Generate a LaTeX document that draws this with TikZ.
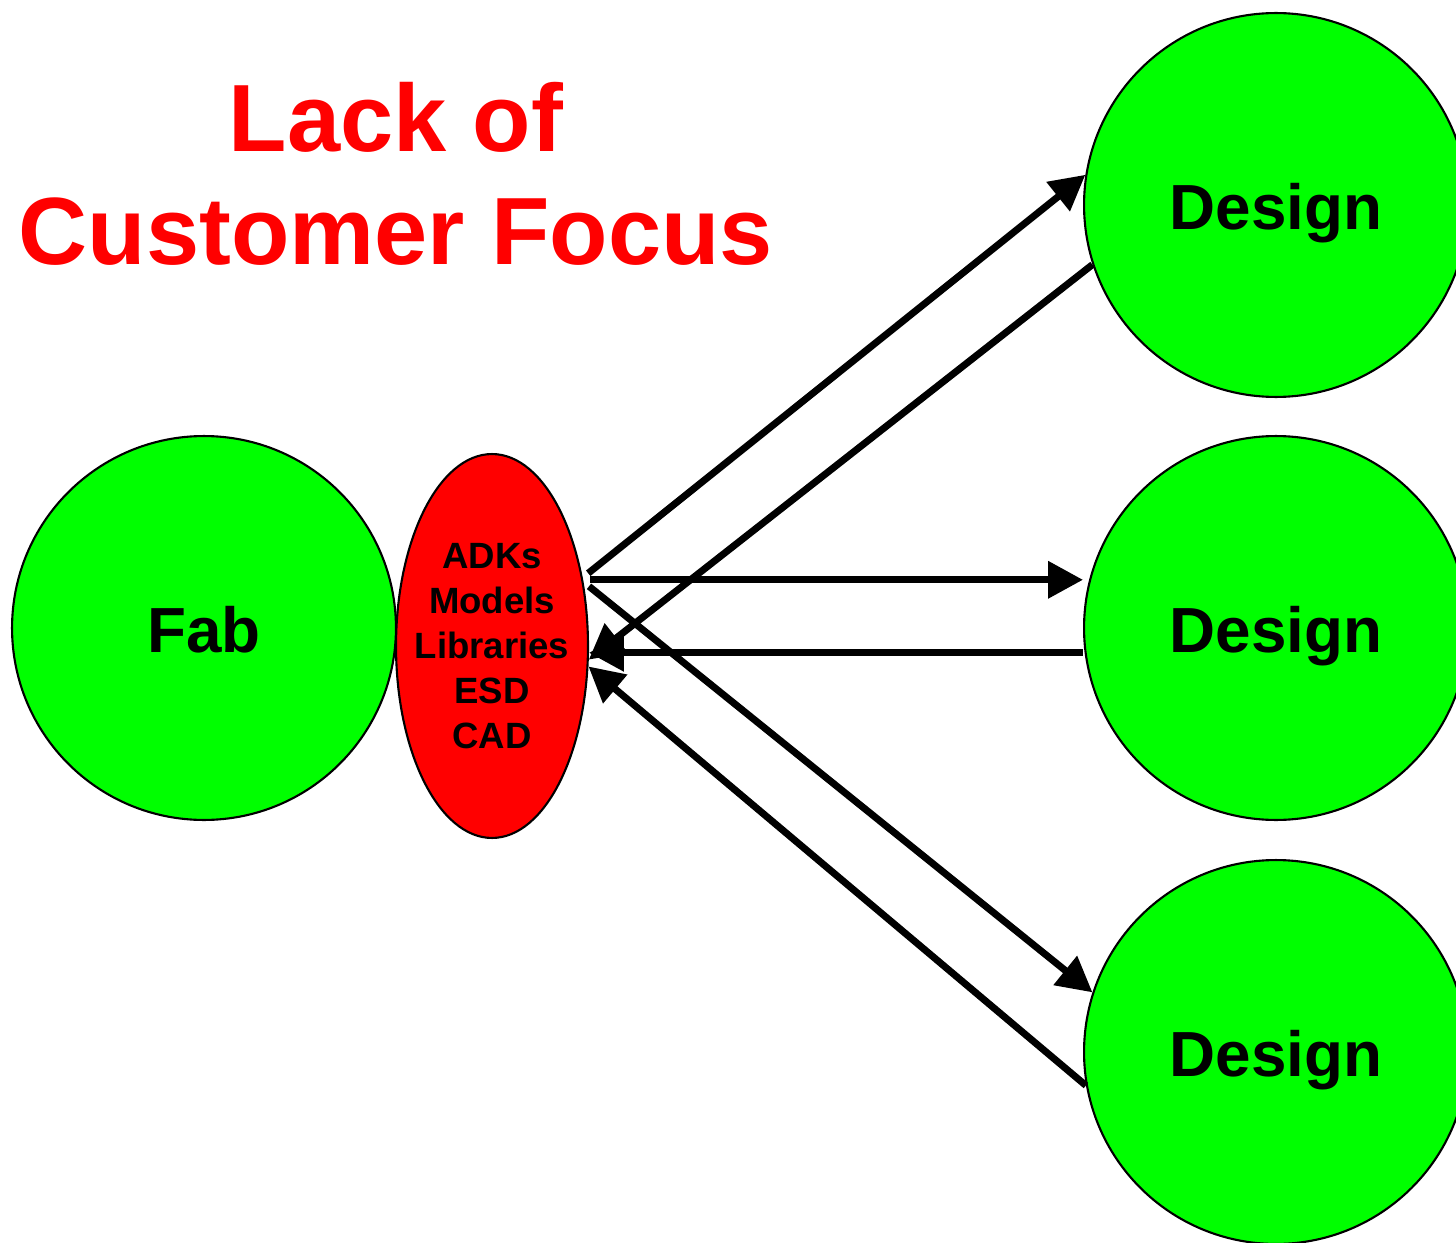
\documentclass[tikz,border=0pt]{standalone}
\usepackage{fontspec}
\setmainfont{Liberation Sans}
\usetikzlibrary{shapes,shapes.geometric,arrows.meta,calc,positioning}

\begin{document}
\begin{tikzpicture}[x=0.02cm, y=-0.02cm,
    >={Triangle[length=0.7cm,width=0.72cm]}, line width=0.14cm,
    site/.style={circle, draw, line width=1.2pt, fill={rgb,255:red,0;green,255;blue,0},
      minimum size=7.68cm, inner sep=0pt, text height=28pt, text depth=0pt,
      font=\fontsize{36.3}{40}\selectfont\bfseries},
    kit/.style={ellipse, draw, line width=1.2pt, fill={rgb,255:red,255;green,0;blue,0},
      minimum width=3.84cm, minimum height=7.68cm, inner xsep=-8pt, inner ysep=0pt,
      align=center, font=\fontsize{20.8}{25.5}\selectfont\bfseries}]
    \useasboundingbox (0,0) rectangle (1456,1243);
    \node [site]                (F)  at (204,628)  {Fab};
    \node [kit]                 (K)  at (492,646)  {ADKs\\Models\\Libraries\\ESD\\CAD};
    \node [site]                (D1) at (1276,205) {Design};
    \node [site]                (D2) at (1276,628) {Design};
    \node [site]                (D3) at (1276,1052){Design};
    \node [text={rgb,255:red,255;green,0;blue,0}, align=center,
      font=\fontsize{54.4}{64.5}\selectfont\bfseries] (T) at (396,174) {Lack of\\Customer Focus};
    % out to the designers
    \draw[->, shorten <=4pt] (K.37) -- (D1.171);
    \draw[->, shorten <=4pt] (K.36) -- (K.36 -| D2.west);
    \draw[->, shorten <=4pt] (K.35) -- (D3.162);
    % back to the kits
    \draw[->] (D1.198) -- (K.-8);
    \draw[->] (K.-4 -| D2.west) -- (K.-4);
    \draw[->] (D3.190) -- (K.-12);
\end{tikzpicture}
\end{document}
